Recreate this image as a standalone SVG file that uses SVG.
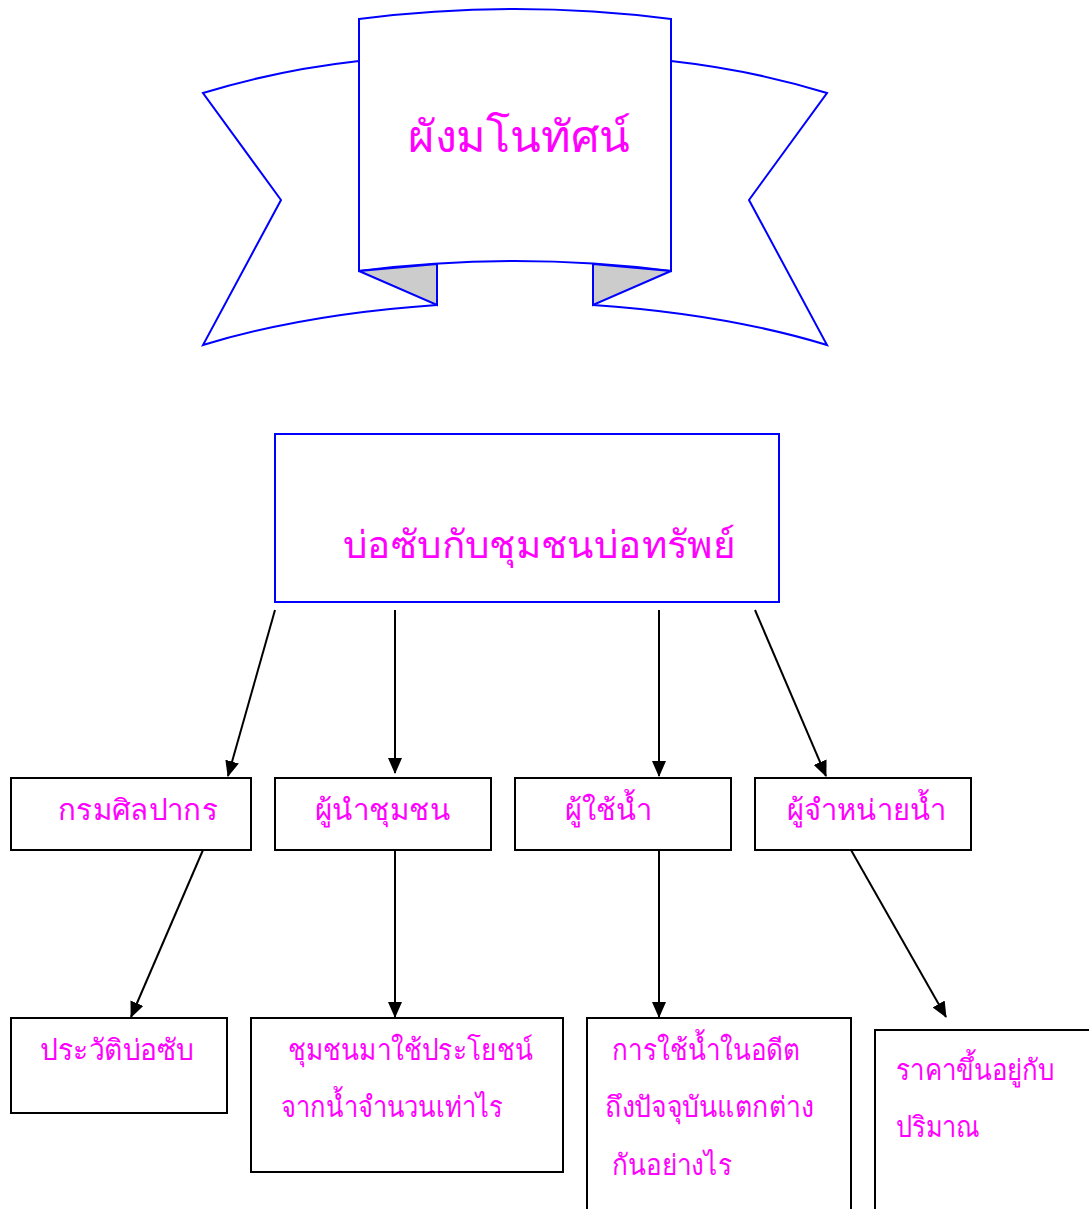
<svg xmlns="http://www.w3.org/2000/svg" width="1089" height="1209" viewBox="0 0 1089 1209">
<style>
.rib{fill:#fff;stroke:#00f;stroke-width:2;stroke-linejoin:miter}
.fold{fill:#ccc;stroke:#00f;stroke-width:2}
.box{fill:#fff;stroke:#000;stroke-width:2}
.bbox{fill:#fff;stroke:#00f;stroke-width:2}
.t{fill:#f0f;font-family:"Liberation Serif","Noto Sans",serif;font-size:29px}
.con{stroke:#000;stroke-width:2;fill:none;marker-end:url(#ah)}
</style>
<defs>
<marker id="ah" markerWidth="16" markerHeight="14" refX="15" refY="7" orient="auto" markerUnits="userSpaceOnUse">
<path d="M0,0 L16,7 L0,14 Z" fill="#000"/>
</marker>
</defs>
<rect width="1089" height="1209" fill="#fff"/>
<g id="banner">
<path class="rib" d="M359,61 Q278,70 203,93 L281,200 L203,345 Q305,314 437,305 L437,264 L359,270 Z"/>
<path class="rib" d="M671,61 Q752,70 827,93 L749,200 L827,345 Q725,314 593,305 L593,264 L671,270 Z"/>
<path class="rib" d="M359,19 Q515,-1 671,19 L671,271 Q515,251 359,271 Z"/>
<path class="fold" d="M359,271 L437,264 L437,305 Z"/>
<path class="fold" d="M671,271 L593,264 L593,305 Z"/>
<text class="t" x="408" y="152" style="font-size:44px" textLength="222" lengthAdjust="spacingAndGlyphs">ผังมโนทัศน์</text>
</g>
<g id="main">
<rect class="bbox" x="275" y="434" width="504" height="168"/>
<text class="t" x="343" y="558" style="font-size:38px" textLength="392" lengthAdjust="spacingAndGlyphs">บ่อซับกับชุมชนบ่อทรัพย์</text>
</g>
<g id="n1"><rect class="box" x="11" y="778" width="240" height="72"/><text class="t" x="58" y="820" textLength="160" lengthAdjust="spacingAndGlyphs">กรมศิลปากร</text></g>
<g id="n2"><rect class="box" x="275" y="778" width="216" height="72"/><text class="t" x="315" y="820" textLength="135" lengthAdjust="spacingAndGlyphs">ผู้นำชุมชน</text></g>
<g id="n3"><rect class="box" x="515" y="778" width="216" height="72"/><text class="t" x="565" y="820" textLength="87" lengthAdjust="spacingAndGlyphs">ผู้ใช้น้ำ</text></g>
<g id="n4"><rect class="box" x="755" y="778" width="216" height="72"/><text class="t" x="787" y="820" textLength="159" lengthAdjust="spacingAndGlyphs">ผู้จำหน่ายน้ำ</text></g>
<g id="n5"><rect class="box" x="11" y="1018" width="216" height="95"/><text class="t" x="40" y="1060" textLength="154" lengthAdjust="spacingAndGlyphs">ประวัติบ่อซับ</text></g>
<g id="n6"><rect class="box" x="251" y="1018" width="312" height="154"/><text class="t" x="288" y="1060" textLength="245" lengthAdjust="spacingAndGlyphs">ชุมชนมาใช้ประโยชน์</text><text class="t" x="281" y="1117" textLength="222" lengthAdjust="spacingAndGlyphs">จากน้ำจำนวนเท่าไร</text></g>
<g id="n7"><rect class="box" x="587" y="1018" width="264" height="200"/><text class="t" x="612" y="1060" textLength="188" lengthAdjust="spacingAndGlyphs">การใช้น้ำในอดีต</text><text class="t" x="605" y="1117" textLength="209" lengthAdjust="spacingAndGlyphs">ถึงปัจจุบันแตกต่าง</text><text class="t" x="612" y="1175" textLength="120" lengthAdjust="spacingAndGlyphs">กันอย่างไร</text></g>
<g id="n8"><rect class="box" x="875" y="1030" width="230" height="200"/><text class="t" x="896" y="1080" textLength="158" lengthAdjust="spacingAndGlyphs">ราคาขึ้นอยู่กับ</text><text class="t" x="896" y="1137" textLength="84" lengthAdjust="spacingAndGlyphs">ปริมาณ</text></g>
<g id="connectors">
<line class="con" x1="275" y1="610" x2="228" y2="776"/>
<line class="con" x1="395" y1="610" x2="395" y2="773"/>
<line class="con" x1="659" y1="610" x2="659" y2="776"/>
<line class="con" x1="755" y1="610" x2="826" y2="776"/>
<line class="con" x1="203" y1="850" x2="131" y2="1017"/>
<line class="con" x1="395" y1="850" x2="395" y2="1017"/>
<line class="con" x1="659" y1="850" x2="659" y2="1017"/>
<line class="con" x1="851" y1="850" x2="946" y2="1017"/>
</g>
</svg>
